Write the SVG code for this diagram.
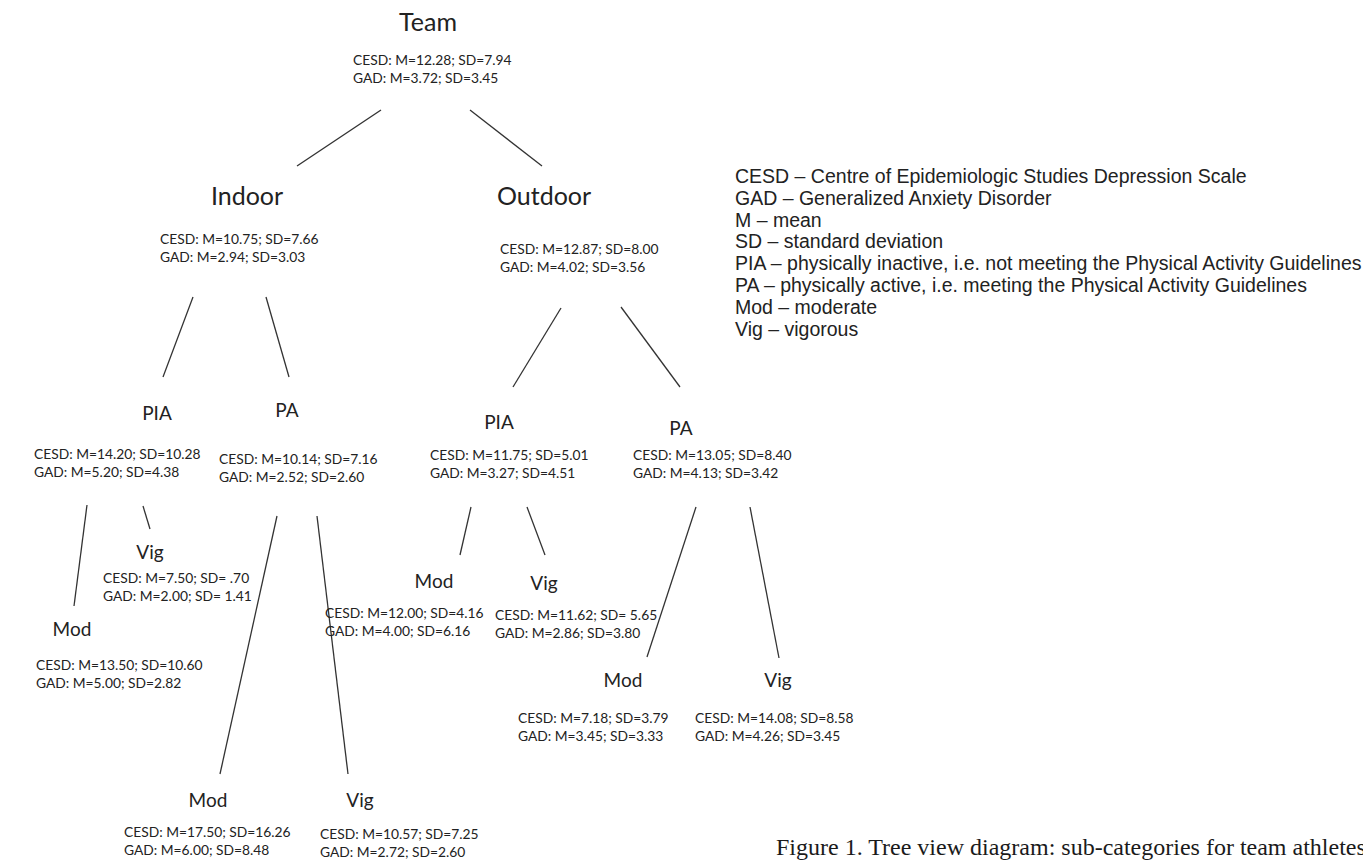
<svg xmlns="http://www.w3.org/2000/svg" width="1363" height="861" viewBox="0 0 1363 861">
<style>
.lbl{font-family:Lato,"Liberation Sans",sans-serif;font-size:25px;fill:#222;text-anchor:middle}
.sl{font-family:Lato,"Liberation Sans",sans-serif;font-size:19px;fill:#222;text-anchor:middle}
.st{font-family:Lato,"Liberation Sans",sans-serif;font-size:13.8px;fill:#222}
.lg{font-family:"Liberation Sans",Arial,sans-serif;font-size:19.5px;fill:#222}
.cap{font-family:"Liberation Serif","Times New Roman",serif;font-size:24px;fill:#1a1a1a}
.ln{stroke:#333;stroke-width:1.3;fill:none}
</style>
<rect width="1363" height="861" fill="#fff"/>
<g id="connectors">
<line class="ln" x1="381" y1="110" x2="297" y2="166"/>
<line class="ln" x1="470" y1="110" x2="542" y2="166"/>
<line class="ln" x1="193" y1="297" x2="163" y2="377"/>
<line class="ln" x1="266" y1="297" x2="289" y2="377"/>
<line class="ln" x1="561" y1="308" x2="513" y2="387"/>
<line class="ln" x1="621" y1="307" x2="680" y2="387"/>
<line class="ln" x1="87" y1="505" x2="74" y2="606"/>
<line class="ln" x1="143" y1="506" x2="150" y2="529"/>
<line class="ln" x1="277" y1="516" x2="220" y2="774"/>
<line class="ln" x1="317" y1="516" x2="348" y2="774"/>
<line class="ln" x1="471" y1="507" x2="460" y2="555"/>
<line class="ln" x1="527" y1="507" x2="545" y2="555"/>
<line class="ln" x1="696" y1="507" x2="647" y2="657"/>
<line class="ln" x1="750" y1="507" x2="779" y2="658"/>
</g>
<g id="team"><text class="lbl" x="428" y="31">Team</text><text class="st" x="353" y="65">CESD: M=12.28; SD=7.94</text><text class="st" x="353" y="83">GAD: M=3.72; SD=3.45</text></g>
<g id="indoor"><text class="lbl" x="247" y="205">Indoor</text><text class="st" x="160" y="244">CESD: M=10.75; SD=7.66</text><text class="st" x="160" y="262">GAD: M=2.94; SD=3.03</text></g>
<g id="outdoor"><text class="lbl" x="544" y="205">Outdoor</text><text class="st" x="500" y="254">CESD: M=12.87; SD=8.00</text><text class="st" x="500" y="272">GAD: M=4.02; SD=3.56</text></g>
<g id="indoor-pia"><text class="sl" x="157" y="420">PIA</text><text class="st" x="34" y="459">CESD: M=14.20; SD=10.28</text><text class="st" x="34" y="477">GAD: M=5.20; SD=4.38</text></g>
<g id="indoor-pa"><text class="sl" x="287" y="417">PA</text><text class="st" x="219" y="464">CESD: M=10.14; SD=7.16</text><text class="st" x="219" y="482">GAD: M=2.52; SD=2.60</text></g>
<g id="outdoor-pia"><text class="sl" x="499" y="429">PIA</text><text class="st" x="430" y="460">CESD: M=11.75; SD=5.01</text><text class="st" x="430" y="478">GAD: M=3.27; SD=4.51</text></g>
<g id="outdoor-pa"><text class="sl" x="681" y="435">PA</text><text class="st" x="633" y="460">CESD: M=13.05; SD=8.40</text><text class="st" x="633" y="478">GAD: M=4.13; SD=3.42</text></g>
<g id="indoor-pia-vig"><text class="sl" x="150" y="559">Vig</text><text class="st" x="103" y="583">CESD: M=7.50; SD= .70</text><text class="st" x="103" y="601">GAD: M=2.00; SD= 1.41</text></g>
<g id="indoor-pia-mod"><text class="sl" x="72" y="636">Mod</text><text class="st" x="36" y="670">CESD: M=13.50; SD=10.60</text><text class="st" x="36" y="688">GAD: M=5.00; SD=2.82</text></g>
<g id="outdoor-pia-mod"><text class="sl" x="434" y="588">Mod</text><text class="st" x="325" y="618">CESD: M=12.00; SD=4.16</text><text class="st" x="325" y="636">GAD: M=4.00; SD=6.16</text></g>
<g id="outdoor-pia-vig"><text class="sl" x="544" y="590">Vig</text><text class="st" x="495" y="620">CESD: M=11.62; SD= 5.65</text><text class="st" x="495" y="638">GAD: M=2.86; SD=3.80</text></g>
<g id="outdoor-pa-mod"><text class="sl" x="623" y="687">Mod</text><text class="st" x="518" y="723">CESD: M=7.18; SD=3.79</text><text class="st" x="518" y="741">GAD: M=3.45; SD=3.33</text></g>
<g id="outdoor-pa-vig"><text class="sl" x="778" y="687">Vig</text><text class="st" x="695" y="723">CESD: M=14.08; SD=8.58</text><text class="st" x="695" y="741">GAD: M=4.26; SD=3.45</text></g>
<g id="indoor-pa-mod"><text class="sl" x="208" y="807">Mod</text><text class="st" x="124" y="837">CESD: M=17.50; SD=16.26</text><text class="st" x="124" y="855">GAD: M=6.00; SD=8.48</text></g>
<g id="indoor-pa-vig"><text class="sl" x="360" y="807">Vig</text><text class="st" x="320" y="839">CESD: M=10.57; SD=7.25</text><text class="st" x="320" y="857">GAD: M=2.72; SD=2.60</text></g>
<g id="legend">
<text class="lg" x="735" y="183">CESD – Centre of Epidemiologic Studies Depression Scale</text>
<text class="lg" x="735" y="205">GAD – Generalized Anxiety Disorder</text>
<text class="lg" x="735" y="227">M – mean</text>
<text class="lg" x="735" y="248">SD – standard deviation</text>
<text class="lg" x="735" y="270">PIA – physically inactive, i.e. not meeting the Physical Activity Guidelines</text>
<text class="lg" x="735" y="292">PA – physically active, i.e. meeting the Physical Activity Guidelines</text>
<text class="lg" x="735" y="314">Mod – moderate</text>
<text class="lg" x="735" y="336">Vig – vigorous</text>
</g>
<g id="caption"><text class="cap" x="776" y="855">Figure 1. Tree view diagram: sub-categories for team athletes</text></g>
</svg>
